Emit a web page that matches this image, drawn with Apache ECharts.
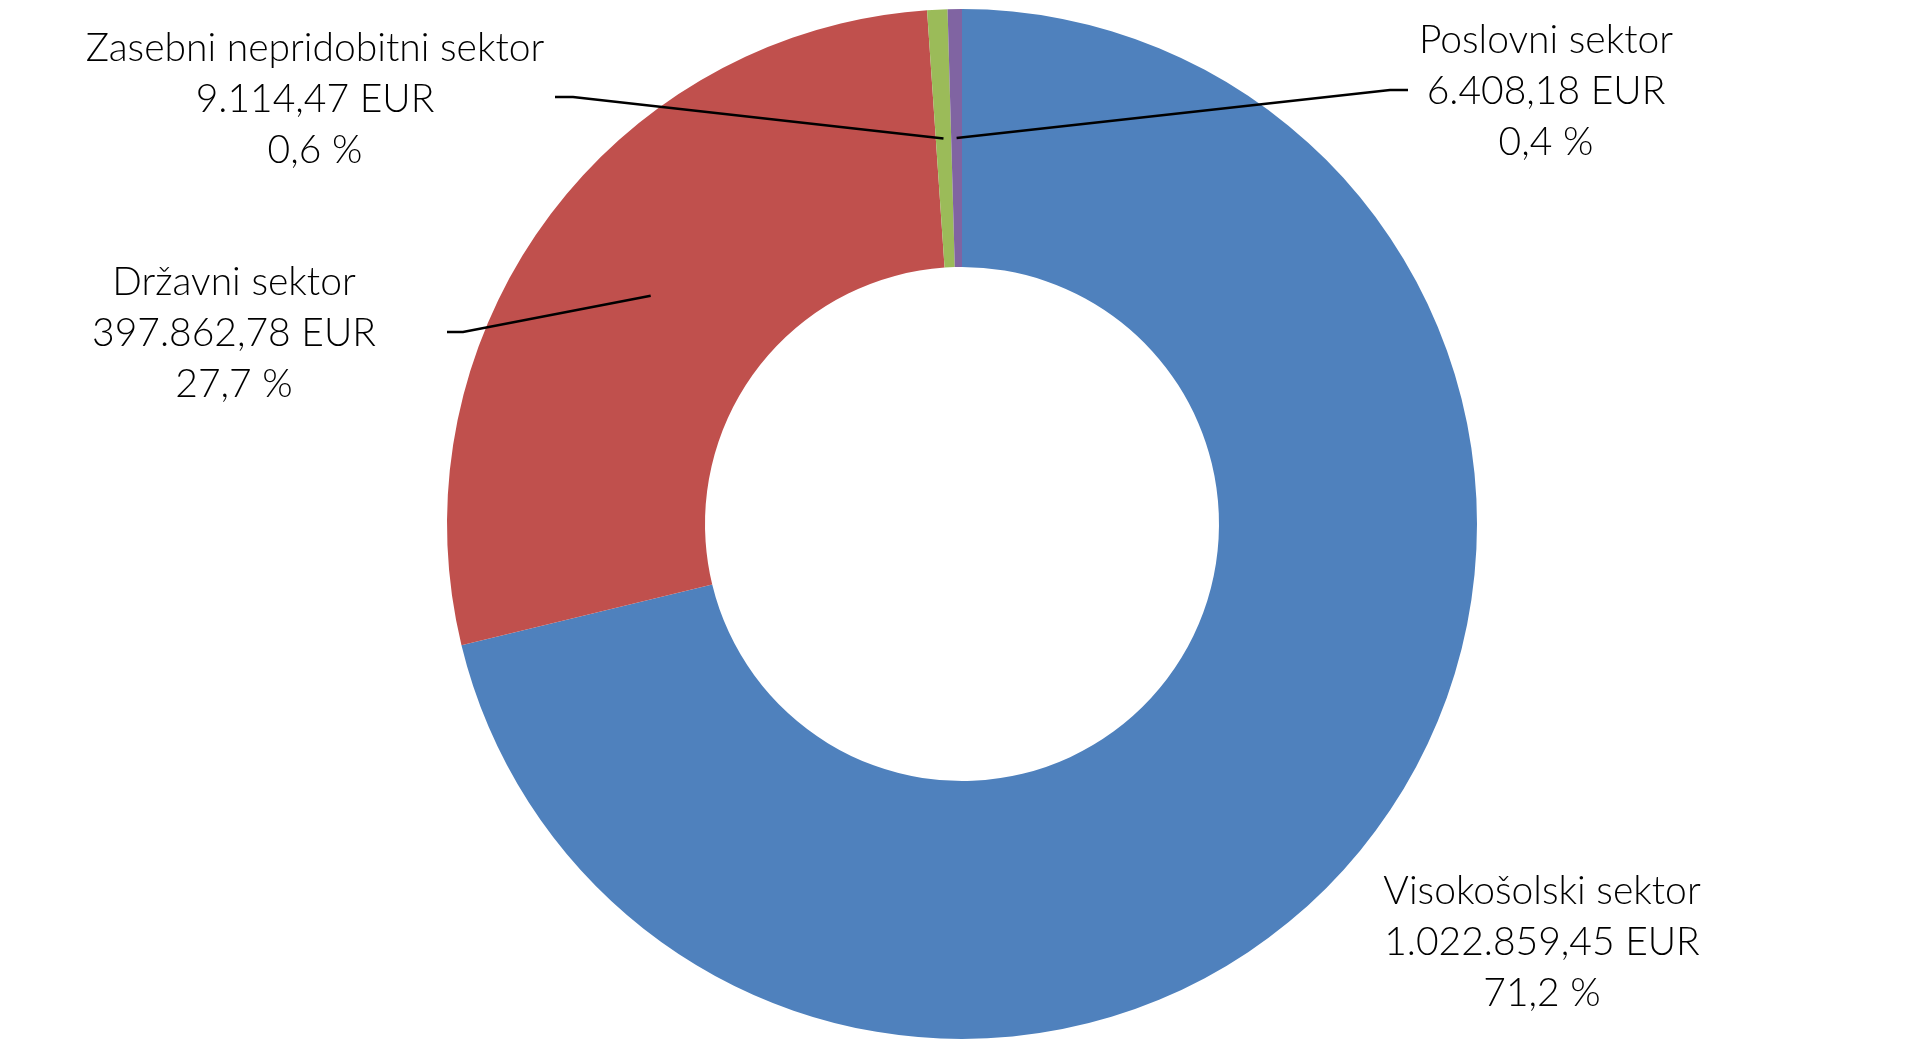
<!DOCTYPE html>
<html>
<head>
<meta charset="utf-8">
<script src="https://cdn.jsdelivr.net/npm/echarts@6/dist/echarts.min.js"></script>
<style>
html,body{margin:0;padding:0;background:#fff;}
#chart{width:1922px;height:1058px;}
</style>
</head>
<body>
<div id="chart"></div>
<script>
const categories = ['Visokošolski sektor', 'Državni sektor', 'Zasebni nepridobitni sektor', 'Poslovni sektor'];
const values = [1022859.45, 397862.78, 9114.47, 6408.18];
const colors = ['#4F81BD', '#C0504D', '#9BBB59', '#8064A2'];

const total = values.reduce((a, b) => a + b, 0);
function fmtEUR(v) {
  const parts = v.toFixed(2).split('.');
  const intPart = parts[0].replace(/\B(?=(\d{3})+(?!\d))/g, '.');
  return intPart + ',' + parts[1] + ' EUR';
}
function fmtPct(v) {
  return (v / total * 100).toFixed(1).replace('.', ',') + ' %';
}

// layout constants
const CX = 962, CY = 524, R_IN = 257, R_OUT = 515;
const labelPos = [
  {x: 1542, y: 942, line: null},
  {x: 234, y: 333, line: {elbow: [463, 332], end: [447, 332]}},
  {x: 315, y: 99, line: {elbow: [573, 97], end: [555, 97]}},
  {x: 1546, y: 91, line: {elbow: [1390, 90], end: [1408, 90]}}
];

// angles (clockwise from top)
const midAngles = [];
let acc = 0;
values.forEach(v => {
  const a = v / total * 360;
  midAngles.push(acc + a / 2);
  acc += a;
});

const baseSeries = {
  type: 'pie',
  center: [CX, CY],
  radius: [R_IN, R_OUT],
  startAngle: 90,
  clockwise: true,
  avoidLabelOverlap: false
};

const chart = echarts.init(document.getElementById('chart'), null, {renderer: 'canvas'});
chart.setOption({
  backgroundColor: '#ffffff',
  animation: false,
  series: [
    Object.assign({}, baseSeries, {
      z: 1,
      data: categories.map((c, i) => ({
        name: c,
        value: values[i],
        itemStyle: {color: colors[i], borderWidth: 0}
      })),
      label: {show: false},
      labelLine: {show: false}
    }),
    Object.assign({}, baseSeries, {
      z: 5,
      silent: true,
      data: categories.map((c, i) => ({
        name: c,
        value: values[i],
        itemStyle: {color: 'rgba(0,0,0,0)', borderWidth: 0},
        labelLine: {show: i !== 0}
      })),
      label: {
        show: true,
        position: 'outside',
        formatter: p => p.name + '\n' + fmtEUR(p.value) + '\n' + fmtPct(p.value),
        fontFamily: 'Lato',
        fontWeight: 300,
        fontSize: 39,
        lineHeight: 51,
        color: '#000',
        align: 'center'
      },
      labelLine: {
        show: true,
        showAbove: true,
        lineStyle: {color: '#000', width: 2.6}
      },
      labelLayout: function (params) {
        const i = params.dataIndex;
        const lp = labelPos[i];
        const out = {x: lp.x, y: lp.y, align: 'center', verticalAlign: 'middle'};
        if (lp.line) {
          const rad = midAngles[i] * Math.PI / 180;
          const rm = (R_IN + R_OUT) / 2;
          const sx = CX + rm * Math.sin(rad);
          const sy = CY - rm * Math.cos(rad);
          out.labelLinePoints = [[sx, sy], lp.line.elbow, lp.line.end];
        }
        return out;
      }
    })
  ]
});
</script>
</body>
</html>
